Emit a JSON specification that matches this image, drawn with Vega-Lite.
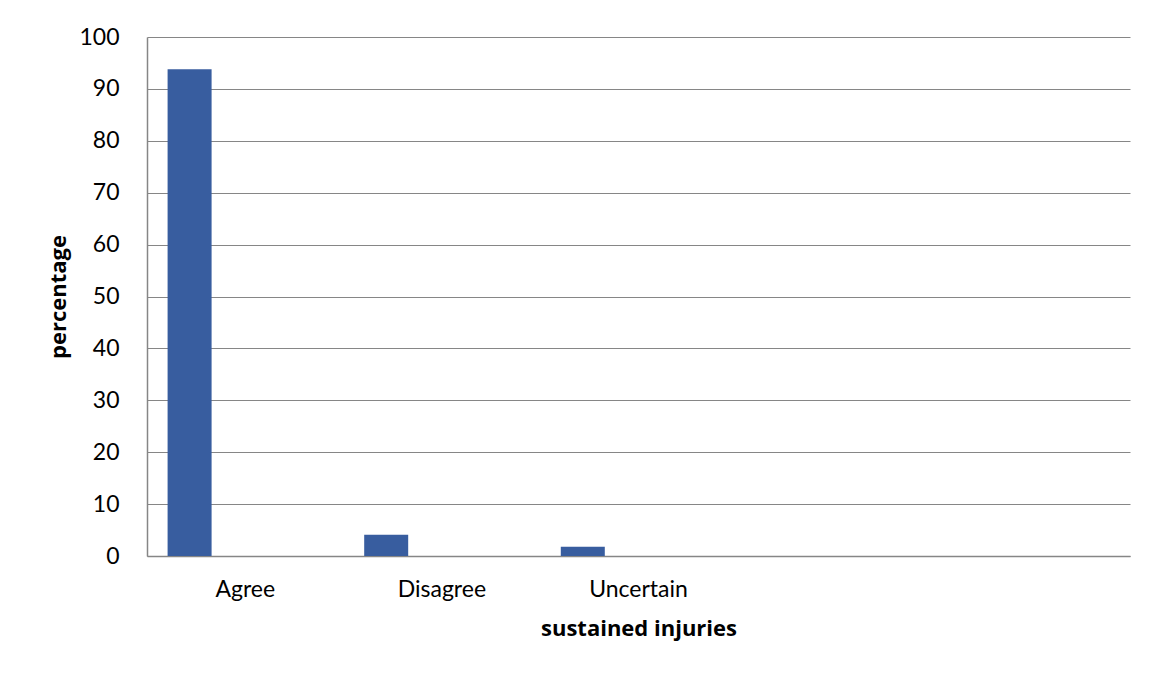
{
  "$schema": "https://vega.github.io/schema/vega-lite/v6.json",
  "autosize": "none",
  "width": 983,
  "height": 519,
  "padding": {"left": 147, "top": 37, "right": 22, "bottom": 119},
  "background": "white",
  "config": {
    "view": {"stroke": null},
    "font": "Lato"
  },
  "data": {
    "values": [
      {"response": "Agree", "series": "s1", "percentage": 93.8},
      {"response": "Disagree", "series": "s1", "percentage": 4.1},
      {"response": "Uncertain", "series": "s1", "percentage": 1.8}
    ]
  },
  "mark": {"type": "bar", "color": "#385D9F"},
  "encoding": {
    "x": {
      "field": "response",
      "type": "nominal",
      "sort": null,
      "scale": {"domain": ["Agree", "Disagree", "Uncertain", " ", "  "], "paddingInner": 0, "paddingOuter": 0},
      "axis": {
        "title": "sustained injuries",
        "labelAngle": 0,
        "labelFont": "Lato",
        "labelFontSize": 23,
        "labelColor": "#000000",
        "labelPadding": 22,
        "ticks": false,
        "domainColor": "#868686",
        "domainWidth": 1.5,
        "titleFont": "Open Sans",
        "titleFontSize": 22,
        "titleFontWeight": "bold",
        "titleColor": "#000000",
        "titlePadding": 17
      }
    },
    "xOffset": {
      "field": "series",
      "type": "nominal",
      "scale": {"domain": ["s1", "s2", "s3", "s4"], "paddingInner": 0, "paddingOuter": 0.234, "align": 1}
    },
    "y": {
      "field": "percentage",
      "type": "quantitative",
      "scale": {"domain": [0, 100], "nice": false},
      "axis": {
        "title": "percentage",
        "values": [0, 10, 20, 30, 40, 50, 60, 70, 80, 90, 100],
        "labelFont": "Lato",
        "labelFontSize": 23,
        "labelColor": "#000000",
        "labelPadding": 28,
        "ticks": false,
        "grid": true,
        "gridColor": "#868686",
        "gridWidth": 1,
        "domainColor": "#868686",
        "domainWidth": 1.5,
        "titleFont": "Open Sans",
        "titleFontSize": 22,
        "titleFontWeight": "bold",
        "titleColor": "#000000",
        "titlePadding": 8
      }
    }
  }
}
